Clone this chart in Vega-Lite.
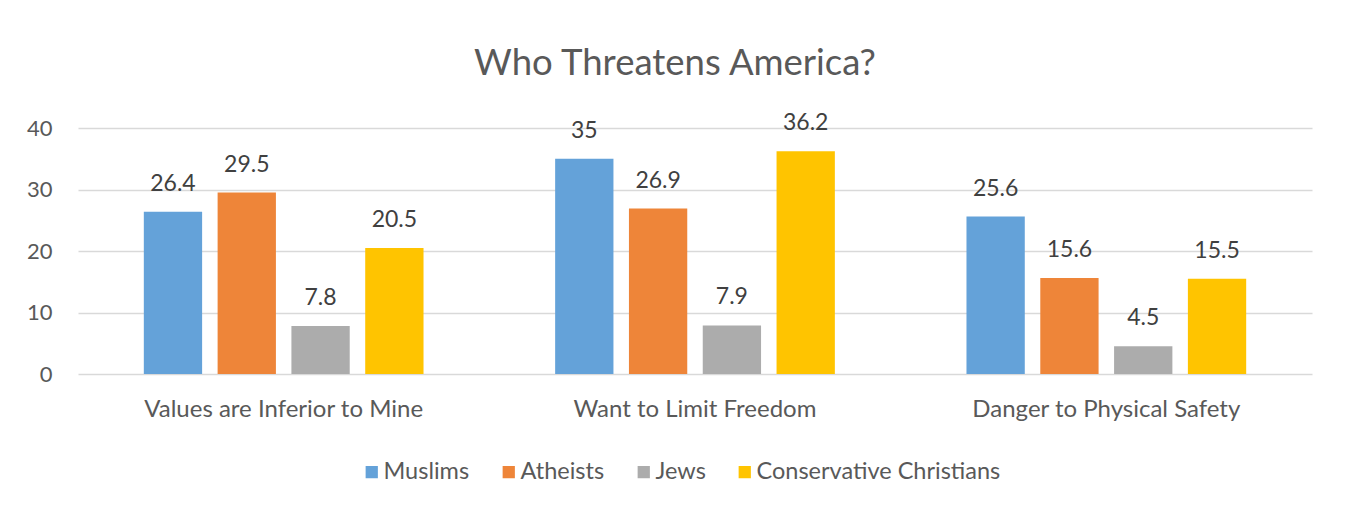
{
  "$schema": "https://vega.github.io/schema/vega-lite/v6.json",
  "width": 1234,
  "height": 246,
  "autosize": "none",
  "padding": {"left": 78, "top": 128, "right": 39, "bottom": 140},
  "background": "white",
  "title": {"text": "Who Threatens America?", "font": "Lato", "fontSize": 36.5, "fontWeight": "normal", "color": "#595959", "anchor": "middle", "frame": "group", "dx": -20, "offset": 30},
  "data": {"values": [
    {"category": "Values are Inferior to Mine", "group": "Muslims", "value": 26.4},
    {"category": "Values are Inferior to Mine", "group": "Atheists", "value": 29.5},
    {"category": "Values are Inferior to Mine", "group": "Jews", "value": 7.8},
    {"category": "Values are Inferior to Mine", "group": "Conservative Christians", "value": 20.5},
    {"category": "Want to Limit Freedom", "group": "Muslims", "value": 35},
    {"category": "Want to Limit Freedom", "group": "Atheists", "value": 26.9},
    {"category": "Want to Limit Freedom", "group": "Jews", "value": 7.9},
    {"category": "Want to Limit Freedom", "group": "Conservative Christians", "value": 36.2},
    {"category": "Danger to Physical Safety", "group": "Muslims", "value": 25.6},
    {"category": "Danger to Physical Safety", "group": "Atheists", "value": 15.6},
    {"category": "Danger to Physical Safety", "group": "Jews", "value": 4.5},
    {"category": "Danger to Physical Safety", "group": "Conservative Christians", "value": 15.5}
  ]},
  "encoding": {
    "x": {"field": "category", "type": "nominal", "sort": ["Values are Inferior to Mine", "Want to Limit Freedom", "Danger to Physical Safety"],
      "scale": {"paddingInner": 0.32, "paddingOuter": 0.16},
      "axis": {"title": null, "labelAngle": 0, "domain": false, "ticks": false, "labelPadding": 23, "labelLimit": 0, "labelFont": "Lato", "labelFontSize": 24, "labelColor": "#595959"}},
    "xOffset": {"field": "group", "type": "nominal", "sort": ["Muslims", "Atheists", "Jews", "Conservative Christians"],
      "scale": {"paddingInner": 0.21, "paddingOuter": 0}},
    "y": {"field": "value", "type": "quantitative", "scale": {"domain": [0, 40]},
      "axis": {"title": null, "values": [0, 10, 20, 30, 40], "domain": false, "ticks": false, "labelPadding": 26, "labelFont": "Lato", "labelFontSize": 22, "labelColor": "#595959", "gridColor": "#d9d9d9", "gridWidth": 1.5}}
  },
  "layer": [
    {"mark": {"type": "bar"},
     "encoding": {
       "color": {"field": "group", "type": "nominal",
         "scale": {"domain": ["Muslims", "Atheists", "Jews", "Conservative Christians"], "range": ["#64a2d9", "#ee8539", "#acacac", "#ffc400"]},
         "legend": {"title": null, "orient": "none", "legendX": 282, "legendY": 332, "direction": "horizontal", "symbolType": "square", "symbolSize": 150, "symbolStrokeWidth": 0, "labelFont": "Lato", "labelFontSize": 23.5, "labelLimit": 0, "labelColor": "#595959", "labelOffset": 0, "columnPadding": 27}}
     }},
    {"mark": {"type": "text", "baseline": "alphabetic", "dy": -21, "font": "Lato", "fontSize": 23, "color": "#404040"},
     "encoding": {"text": {"field": "value", "type": "quantitative"}}}
  ],
  "config": {"view": {"stroke": null}}
}
